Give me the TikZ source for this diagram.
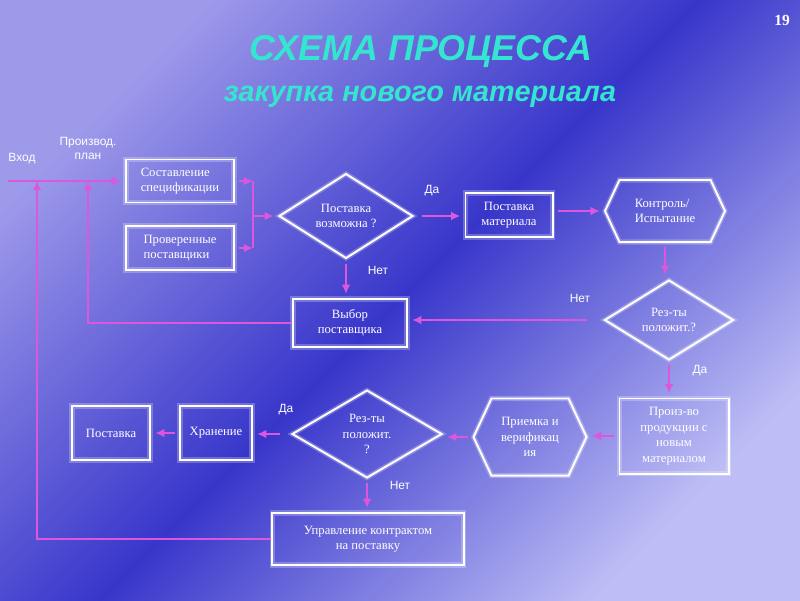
\documentclass[tikz,border=0pt]{standalone}
\usepackage{fontspec}
\setmainfont{Liberation Serif}
\setsansfont{Liberation Sans}
\usepackage{tikz}
\usetikzlibrary{arrows.meta,shapes.geometric,shapes.symbols}
\definecolor{bgtop}{RGB}{158,154,234}
\definecolor{bgmid}{RGB}{56,54,202}
\definecolor{bgbot}{RGB}{190,190,246}
\definecolor{linkc}{RGB}{220,86,222}
\definecolor{titlec}{RGB}{52,230,208}
\tikzset {
    box/.style={draw=white, line width=1.4pt, text=white, align=center,
        inner sep=2pt, font=\fontsize{9}{11}\selectfont,
        preaction={draw=white, line width=3.6pt, opacity=0.25}},
    decision/.style={box, diamond, inner sep=0pt},
    hexbox/.style={box, signal, signal to=west and east,
        signal pointer angle=130},
    lbl/.style={text=white, font=\sffamily\fontsize{8.5}{10}\selectfont,
        align=center, inner sep=1pt},
    flow/.style={draw=linkc, line width=1.4pt,
        -{Latex[length=2.3mm,width=2.2mm]}, shorten >=3pt, shorten <=3pt},
    link/.style={draw=linkc, line width=1.4pt}
}

\begin{document}
\begin{tikzpicture}[x=0.025cm, y=-0.025cm]

        \shade[top color=bgtop, bottom color=bgbot, middle color=bgmid,
            shading angle=45] (0,0) rectangle (800,600);
        \useasboundingbox (0,0) rectangle (800,600);

        \node[text=white, font=\bfseries\fontsize{11}{13}\selectfont] (num) at (782,20) {19};
        \node[text=titlec, font=\sffamily\bfseries\itshape\fontsize{25.5}{28}\selectfont] (title) at (421,52) {СХЕМА ПРОЦЕССА};
        \node[text=titlec, font=\sffamily\bfseries\itshape\fontsize{20.5}{22}\selectfont] (subtitle) at (420,97) {закупка нового материала};

        \node[box, minimum width=2.7cm, minimum height=1.075cm, align=left] (spec) at (180,181) {Составление\\спецификации};
        \node[box, minimum width=2.7cm, minimum height=1.1cm, align=left] (prov) at (180,248) {Проверенные\\поставщики};
        \node[decision, minimum width=3.35cm, minimum height=1.8cm] (dec1) at (346,216) {Поставка\\возможна ?};
        \node[box, minimum width=2.175cm, minimum height=1.1cm] (supply) at (509,215) {Поставка\\материала};
        \node[hexbox, minimum width=3.0cm, minimum height=1.55cm, align=left] (ctrl) at (665,211) {Контроль/\\Испытание};
        \node[decision, minimum width=3.225cm, minimum height=2.0cm] (dec2) at (669,320) {Рез-ты\\положит.?};
        \node[box, minimum width=2.85cm, minimum height=1.2cm] (vybor) at (350,323) {Выбор\\поставщика};
        \node[box, minimum width=2.725cm, minimum height=1.875cm] (proiz) at (674,436) {Произ-во\\продукции с\\новым\\материалом};
        \node[hexbox, minimum width=2.825cm, minimum height=1.925cm] (priem) at (530,437) {Приемка и\\верификац\\ия};
        \node[decision, minimum width=3.75cm, minimum height=1.7cm] (dec3) at (367,434) {Рез-ты\\положит.\\?};
        \node[box, minimum width=1.8cm, minimum height=1.35cm] (hran) at (216,433) {Хранение};
        \node[box, minimum width=1.95cm, minimum height=1.35cm] (post) at (111,433) {Поставка};
        \node[box, minimum width=4.775cm, minimum height=1.3cm] (upr) at (368,539) {Управление контрактом\\на поставку};

        \node[lbl] (vhod) at (22,159) {Вход};
        \node[lbl] (plan) at (88,148) {Производ.\\план};
        \node[lbl] (yes1) at (432,191) {Да};
        \node[lbl] (no1) at (378,270) {Нет};
        \node[lbl] (no2) at (580,298) {Нет};
        \node[lbl] (yes2) at (700,371) {Да};
        \node[lbl] (yes3) at (286,410) {Да};
        \node[lbl] (no3) at (400,485) {Нет};

        \coordinate (start) at (8,181);
        \coordinate (join) at (253,216);
        \coordinate (back1) at (37,181);
        \coordinate (back2) at (88,181);

        \draw[flow, shorten <=0pt] (start) -- (spec.west);
        \draw[flow, shorten <=0pt, shorten >=0pt] (upr.west) -| (back1);
        \draw[flow, shorten <=0pt, shorten >=0pt] (vybor.west) -| (back2);
        \draw[flow, shorten >=0pt] (spec.east) -- (spec.east -| join);
        \draw[flow, shorten >=0pt] (prov.east) -- (prov.east -| join);
        \draw[link] (spec.east -| join) -- (prov.east -| join);
        \draw[flow, shorten <=0pt] (join) -- (dec1.west);
        \draw[flow, shorten <=6pt] (dec1.east) -- (dec1.east -| supply.west);
        \draw[flow] (dec1.south) -- (dec1.south |- vybor.north);
        \draw[flow] (ctrl.west -| supply.east) -- (ctrl.west);
        \draw[flow] (ctrl.south) -- (ctrl.south |- dec2.north);
        \draw[flow, shorten <=12pt] (dec2.west) -- (dec2.west -| vybor.east);
        \draw[flow] (dec2.south) -- (dec2.south |- proiz.north);
        \draw[flow] (proiz.west) -- (proiz.west -| priem.east);
        \draw[flow] (priem.west) -- (priem.west -| dec3.east);
        \draw[flow, shorten <=8pt] (dec3.west) -- (dec3.west -| hran.east);
        \draw[flow] (hran.west) -- (hran.west -| post.east);
        \draw[flow] (dec3.south) -- (dec3.south |- upr.north);

    \end{tikzpicture}
\end{document}
